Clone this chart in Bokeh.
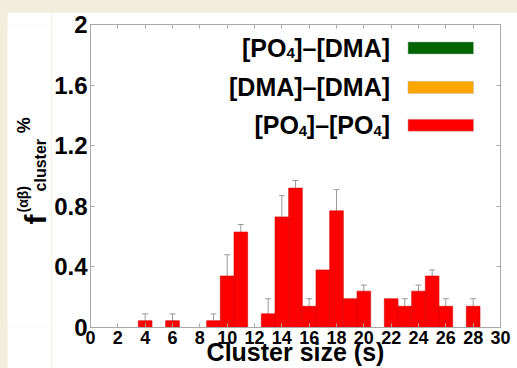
import numpy as np
from bokeh.plotting import figure
from bokeh.models import (ColumnDataSource, Whisker, LinearAxis, Label, BoxAnnotation,
                          FixedTicker, Range1d, TeeHead, NumeralTickFormatter,
                          CustomLabelingPolicy)
from bokeh.layouts import column, row
from bokeh.embed import file_html
from bokeh.resources import INLINE

# ---- data ----
cluster_sizes = [4, 6, 9, 10, 11, 13, 14, 15, 16, 17, 18, 19, 20, 22, 23, 24, 25, 26, 28]
po4_po4_values = [0.045, 0.045, 0.045, 0.34, 0.63, 0.09, 0.73, 0.92, 0.14, 0.38, 0.77, 0.19,
                  0.24, 0.19, 0.14, 0.24, 0.34, 0.14, 0.14]
po4_po4_errors = [0.045, 0.045, 0.045, 0.14, 0.05, 0.10, 0.14, 0.05, 0.05, 0.0, 0.14, 0.0,
                  0.04, 0.0, 0.05, 0.04, 0.04, 0.05, 0.05]
# legend entries as (text, subscript) pieces
legend_pieces = [
    [("[PO", False), ("4", True), ("]\u2013[DMA]", False)],
    [("[DMA]\u2013[DMA]", False)],
    [("[PO", False), ("4", True), ("]\u2013[PO", False), ("4", True), ("]", False)],
]
legend_colors = ["#006400", "#ffa500", "#ff0000"]
x_ticks = list(range(0, 31, 2))
y_ticks = [0, 0.4, 0.8, 1.2, 1.6, 2]

FONT = "Liberation Sans"
GRAY = "#a8a8a8"
ERR_GRAY = "#9a9a9a"

vals = np.array(po4_po4_values)
errs = np.array(po4_po4_errors)
src = ColumnDataSource(dict(x=cluster_sizes, top=vals))
has_err = errs > 0
err_src = ColumnDataSource(dict(x=np.array(cluster_sizes)[has_err],
                                upper=(vals + errs)[has_err],
                                lower=(vals - errs)[has_err]))

P_W, P_H = 466, 356
B_L, B_R, B_T, B_B = 37, 17, 12, 41
p = figure(width=P_W, height=P_H, output_backend="svg", toolbar_location=None,
           x_range=Range1d(0, 30), y_range=Range1d(0, 2),
           min_border_left=B_L, min_border_right=B_R, min_border_top=B_T, min_border_bottom=B_B,
           background_fill_color="white", border_fill_color="white",
           outline_line_color=GRAY, outline_line_width=1)
p.xgrid.visible = False
p.ygrid.visible = False

p.vbar(x="x", top="top", bottom=0, width=1.0, source=src,
       fill_color="#ff0000", line_color="#d40000", line_width=0.6)

w = Whisker(base="x", upper="upper", lower="lower", source=err_src,
            line_color=ERR_GRAY, line_width=1,
            upper_head=TeeHead(size=6, line_color=ERR_GRAY, line_width=1),
            lower_head=TeeHead(size=6, line_color=ERR_GRAY, line_width=1))
p.add_layout(w)

for ax in (p.xaxis[0], p.yaxis[0]):
    ax.axis_line_color = GRAY
    ax.major_tick_line_color = GRAY
    ax.major_tick_in = 4
    ax.major_tick_out = 0
    ax.minor_tick_line_color = None
    ax.major_label_text_font = FONT
    ax.major_label_text_font_style = "bold"
    ax.major_label_text_color = "black"

p.xaxis[0].ticker = FixedTicker(ticks=x_ticks)
p.xaxis[0].major_label_text_font_size = "18px"
p.xaxis[0].major_label_standoff = 3
p.xaxis[0].axis_label = "Cluster size (s)"
p.xaxis[0].axis_label_text_font = FONT
p.xaxis[0].axis_label_text_font_style = "bold"
p.xaxis[0].axis_label_text_font_size = "25px"
p.xaxis[0].axis_label_text_color = "black"
p.xaxis[0].axis_label_standoff = -9

p.yaxis[0].ticker = FixedTicker(ticks=y_ticks)
p.yaxis[0].formatter = NumeralTickFormatter(format="0.[0]")
p.yaxis[0].major_label_text_font_size = "24px"
p.yaxis[0].major_label_standoff = 3

# mirrored ticks (no labels) on the top and right edges
def mirror_axis(ticks):
    return LinearAxis(ticker=FixedTicker(ticks=ticks), axis_line_color=None,
                      major_tick_in=4, major_tick_out=0, major_tick_line_color=GRAY,
                      minor_tick_line_color=None, major_label_text_font_size="0px",
                      major_label_standoff=0,
                      major_label_policy=CustomLabelingPolicy(code="return []"))

p.add_layout(mirror_axis(x_ticks), "above")
p.add_layout(mirror_axis(y_ticks), "right")

# ---- custom legend: text (with subscripts) to the left of a colour swatch ----
px_per_x = (P_W - B_L - B_R) / 30.0
px_per_y = (P_H - B_T - B_B) / 2.0
# Arial/Liberation Sans Bold advance widths (em)
W = {"[": .333, "]": .333, "P": .667, "O": .778, "D": .722, "M": .833, "A": .722,
     "4": .556, "\u2013": .556}
MAIN_FS, SUB_FS = 25, 15
row_centers = [1.845, 1.585, 1.335]
text_right = 21.92
swatch_left, swatch_right, swatch_half = 23.23, 28.03, 0.04
for pieces, col, yc in zip(legend_pieces, legend_colors, row_centers):
    xr = text_right
    for txt, sub in reversed(pieces):
        fs = SUB_FS if sub else MAIN_FS
        y = yc - (5.5 / px_per_y if sub else 0)
        p.add_layout(Label(x=xr, y=y, text=txt, text_align="right", text_baseline="middle",
                           text_font=FONT, text_font_style="bold",
                           text_font_size=f"{fs}px", text_color="black"))
        xr -= sum(W[c] for c in txt) * fs / px_per_x
    p.add_layout(BoxAnnotation(left=swatch_left, right=swatch_right, top=yc + swatch_half,
                               bottom=yc - swatch_half,
                               fill_color=col, fill_alpha=1.0, line_color="#bbbbbb",
                               line_width=0.5, line_alpha=1.0))

# ---- y-axis title panel (shares the y range of the chart; x in pixels) ----
t = figure(width=44, height=P_H, output_backend="svg", toolbar_location=None,
           x_range=Range1d(0, 44), y_range=p.y_range,
           x_axis_type=None, y_axis_type=None,
           min_border_left=0, min_border_right=0, min_border_top=B_T, min_border_bottom=B_B,
           background_fill_color="white", border_fill_color="white",
           outline_line_color=None)
t.xgrid.visible = False
t.ygrid.visible = False
ang = np.pi / 2
title_parts = [
    ("f", 28, 0.680, "30px"),
    ("cluster", 33, 0.898, "16px"),
    ("(\u03b1\u03b2)", 15, 0.759, "14px"),
    ("%", 16, 1.282, "18px"),
]
for txt, tx, ty, fs in title_parts:
    t.add_layout(Label(x=tx, y=ty, text=txt, angle=ang, text_align="left",
                       text_baseline="middle", text_font=FONT, text_font_style="bold",
                       text_font_size=fs, text_color="black"))

layout = column(row(t, p, margin=(12, 0, 0, 7)), styles={"background-color": "#f3eddd"})
open("out.html", "w").write(file_html(layout, INLINE))
